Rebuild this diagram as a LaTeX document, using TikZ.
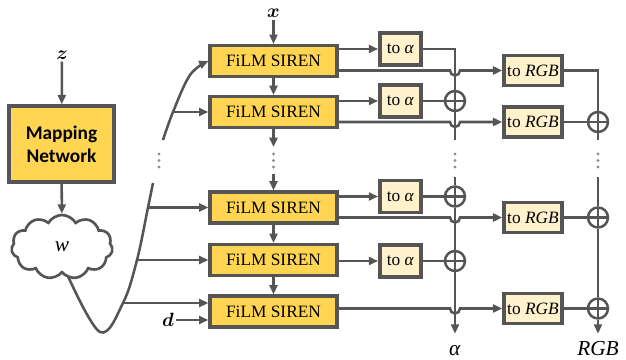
\documentclass[tikz,border=0pt]{standalone}
\usepackage{amsmath}
\usepackage{fontspec}
\setmainfont{Liberation Serif}
\newfontfamily\mapfont{Carlito}
\usetikzlibrary{arrows.meta,shapes.symbols,calc}
\definecolor{PGGold}{HTML}{FFD552}
\definecolor{PGCream}{HTML}{FFF2CC}
\definecolor{PGLine}{HTML}{555555}
\definecolor{PGDots}{HTML}{8F8F8F}

\begin{document}
\begin{tikzpicture}[x=0.75pt,y=-0.75pt,
  wire/.style={draw=PGLine,line width=1.9pt},
  arr/.style={wire,-{Triangle[length=7pt,width=6pt]}},
  mapbox/.style={draw=PGLine,fill=PGGold,line width=2.6pt,minimum width=78.75pt,minimum height=57pt,
    inner sep=0pt,align=center,font=\mapfont\bfseries\fontsize{14.5}{17}\selectfont},
  film/.style={draw=PGLine,fill=PGGold,line width=2.6pt,minimum width=95pt,minimum height=23pt,
    inner sep=0pt,font=\fontsize{13}{15}\selectfont},
  toalpha/.style={draw=PGLine,fill=PGCream,line width=2.6pt,minimum width=31pt,minimum height=24pt,
    inner sep=0pt,font=\fontsize{13}{15}\selectfont},
  torgb/.style={toalpha,minimum width=43.5pt,minimum height=22.5pt},
  adder/.style={circle,wire,minimum size=15pt,inner sep=0pt,
    path picture={\draw[PGLine,line width=1.9pt]
      (path picture bounding box.north) -- (path picture bounding box.south)
      (path picture bounding box.west) -- (path picture bounding box.east);}},
  cloudbox/.style={cloud,cloud puffs=11,cloud puff arc=120,aspect=1.55,draw=PGLine,line width=2pt,
    minimum width=76pt,minimum height=48pt,inner sep=0pt,font=\fontsize{16}{18}\selectfont},
  lbl/.style={inner sep=1.5pt,font=\fontsize{15}{17}\selectfont},
  outlbl/.style={anchor=base,text height=11pt,text depth=0pt,inner sep=0pt,outer sep=5pt,
    font=\fontsize{16}{18}\selectfont},
  vdot/.style={fill=PGDots}]
\path[use as bounding box] (0,0) rectangle (626,360);

% mapping network and latent
\node[lbl] (z) at (62,55) {$\boldsymbol{z}$};
\node[mapbox] (map) at (61.5,144) {Mapping\\Network};
\node[cloudbox] (w) at (62,247) {\textit{w}};
\draw[arr] (z) -- (map);
\draw[arr] (map) -- (w);

% FiLM SIREN stack
\node[lbl] (x) at (273.5,13) {$\boldsymbol{x}$};
\node[film] (f1) at (273.5,61) {FiLM SIREN};
\node[film] (f2) at (273.5,112) {FiLM SIREN};
\node[film] (f3) at (273.5,207.5) {FiLM SIREN};
\node[film] (f4) at (273.5,260) {FiLM SIREN};
\node[film] (f5) at (273.5,311.5) {FiLM SIREN};
\coordinate (fg1) at (273.5,147);
\coordinate (fg2) at (273.5,174);
\draw[arr] (x) -- (f1);
\draw[arr] (f1) -- (f2);
\draw[arr] (f2) -- (fg1);
\draw[arr] (fg2) -- (f3);
\draw[arr] (f3) -- (f4);
\draw[arr] (f4) -- (f5);

% w fed to every layer
\coordinate (c0) at ($(w.south)+(6,2)$);
\coordinate (c1) at (100,332);
\coordinate (k5) at (123,303);
\coordinate (k4) at (137,260);
\coordinate (k3) at (148,207.5);
\coordinate (c2) at (153,183);
\coordinate (c3) at (163,140);
\coordinate (k2) at (173,112);
\coordinate (c4) at (190,75);
\draw[wire] plot[smooth,tension=0.6] coordinates {(c0) (c1) (k5) (k4) (k3) (c2)};
\draw[arr] plot[smooth,tension=0.6] coordinates {(c3) (k2) (c4) (f1.west)};
\draw[arr] (k2) -- (f2.west |- k2);
\draw[arr] (k3) -- (f3.west |- k3);
\draw[arr] (k4) -- (f4.west |- k4);
\draw[arr] (k5) -- (f5.west |- k5);
\node[lbl] (d) at (168,320) {$\boldsymbol{d}$};
\draw[arr] (d) -- (f5.west |- d);

% heads
\node[toalpha] (a1) at (400.5,49) {to \textit{α}};
\node[toalpha] (a2) at (400.5,101) {to \textit{α}};
\node[toalpha] (a3) at (400.5,196.5) {to \textit{α}};
\node[toalpha] (a4) at (400.5,261) {to \textit{α}};
\node[torgb] (r1) at (533,70.5) {to \textit{RGB}};
\node[torgb] (r2) at (533,122) {to \textit{RGB}};
\node[torgb] (r3) at (533,217.5) {to \textit{RGB}};
\node[torgb] (r5) at (533,308.5) {to \textit{RGB}};
\coordinate (acol) at (455,0);
\draw[arr] (f1.east |- a1) -- (a1);
\draw[arr] (f2.east |- a2) -- (a2);
\draw[arr] (f3.east |- a3) -- (a3);
\draw[arr] (f4.east |- a4) -- (a4);
\draw[arr] (f1.east |- r1) -- ($(acol |- r1)+(-5,0)$) arc[start angle=180,end angle=360,radius=3.75pt] -- (r1);
\draw[arr] (f2.east |- r2) -- ($(acol |- r2)+(-5,0)$) arc[start angle=180,end angle=360,radius=3.75pt] -- (r2);
\draw[arr] (f3.east |- r3) -- ($(acol |- r3)+(-5,0)$) arc[start angle=180,end angle=360,radius=3.75pt] -- (r3);
\draw[arr] (f5.east |- r5) -- ($(acol |- r5)+(-5,0)$) arc[start angle=180,end angle=360,radius=3.75pt] -- (r5);

% alpha sum
\node[adder] (s1) at (455,101) {};
\node[adder] (s2) at (455,196.5) {};
\node[adder] (s3) at (455,261) {};
\coordinate (ag1) at (455,140);
\coordinate (ag2) at (455,177);
\node[outlbl] (alpha) at (455,355) {\textit{α}};
\draw[wire] (a1.east) -| (s1);
\draw[wire] (a2) -- (s1);
\draw[wire] (s1) -- (ag1);
\draw[wire] (ag2) -- (s2);
\draw[wire] (a3) -- (s2);
\draw[wire] (s2) -- (s3);
\draw[wire] (a4) -- (s3);
\draw[arr] (s3) -- (alpha);

% RGB sum
\node[adder] (t1) at (598,122) {};
\node[adder] (t2) at (598,217.5) {};
\node[adder] (t3) at (598,308.5) {};
\coordinate (tg1) at (598,140);
\coordinate (tg2) at (598,177);
\node[outlbl] (rgb) at (598,355) {\textit{RGB}};
\draw[wire] (r1.east) -| (t1);
\draw[wire] (r2) -- (t1);
\draw[wire] (t1) -- (tg1);
\draw[wire] (tg2) -- (t2);
\draw[wire] (r3) -- (t2);
\draw[wire] (t2) -- (t3);
\draw[wire] (r5) -- (t3);
\draw[arr] (t3) -- (rgb);

% elided layers
\foreach \dx in {159,273.5,455,598}
  \foreach \dy in {154,160.5,167}
    \fill[vdot] (\dx,\dy) circle[radius=1.2pt];
\end{tikzpicture}
\end{document}
